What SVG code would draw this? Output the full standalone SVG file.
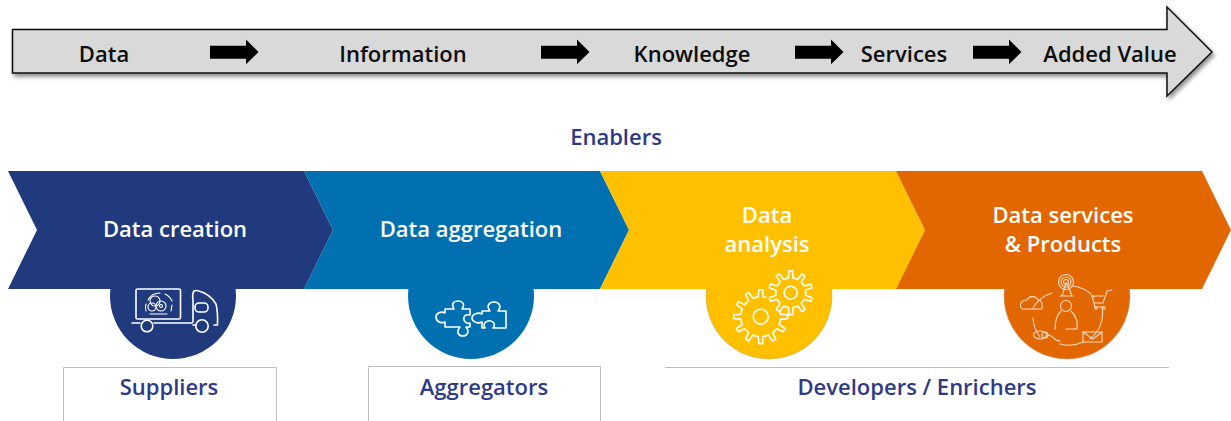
<svg xmlns="http://www.w3.org/2000/svg" width="1231" height="421" viewBox="0 0 1231 421">
<style>
text{font-family:"Open Sans","Liberation Sans",sans-serif;font-weight:600;text-anchor:middle}
.k{font-size:22px;fill:#0d0d0d}
.w{font-size:22px;fill:#fff}
.n{font-size:22px;fill:#2f3a86}
.i{fill:none;stroke:#fff;stroke-width:1.6;stroke-linecap:round;stroke-linejoin:round}
.o{fill:none;stroke:#f9dcc4;stroke-width:1.1;stroke-linecap:round;stroke-linejoin:round}
.b{fill:none;stroke:#bfbfbf;stroke-width:1}
</style>
<defs>
<filter id="sh" x="-2%" y="-20%" width="104%" height="150%"><feDropShadow dx="2" dy="3" stdDeviation="2" flood-color="#000" flood-opacity=".45"/></filter>
<path id="a" d="M0 45.7H36V39.5L48.500 52 36 64.200V58.700H0Z" fill="#000"/>
<path id="t1" d="M-5.180-19.300L-2.440-19.850-1.880-26.900H1.880L2.440-19.850 5.180-19.300" class="i"/>
<path id="t2" d="M-4.640-14.270L-2.200-14.840-1.920-21.900H1.920L2.200-14.840 4.640-14.270" class="i"/>
</defs>

<g id="value-arrow">
<path d="M12.500 29.500H1167V7L1212 52 1167 96V73H12.500Z" fill="#d9d9d9" stroke="#111" stroke-width="1.500" filter="url(#sh)"/>
<text class="k" x="104" y="62">Data</text>
<text class="k" x="403" y="62">Information</text>
<text class="k" x="692" y="62">Knowledge</text>
<text class="k" x="904" y="62">Services</text>
<text class="k" x="1110" y="62">Added Value</text>
</g>
<g id="connectors">
<use href="#a" x="210"/><use href="#a" x="541"/><use href="#a" x="795"/><use href="#a" x="973"/>
</g>
<g id="enablers"><text class="n" x="616" y="145">Enablers</text></g>

<g id="circle-creation"><circle cx="173" cy="296" r="63" fill="#213a7d"/></g>
<g id="circle-aggregation"><circle cx="471" cy="296" r="63" fill="#0070b0"/></g>
<g id="circle-analysis"><circle cx="769" cy="296" r="63" fill="#ffc000" stroke="#c9a84a" stroke-width=".6"/></g>
<g id="circle-services"><circle cx="1067" cy="296" r="63" fill="#e26700" stroke="#c9905e" stroke-width=".6"/></g>

<g id="data-creation">
<path d="M8 171H304L333 230 304 289H8L37 230Z" fill="#213a7d"/>
<text class="w" x="175" y="237">Data creation</text>
</g>
<g id="data-aggregation">
<path d="M304 171H600L629 230 600 289H304L333 230Z" fill="#0070b0"/>
<text class="w" x="471" y="237">Data aggregation</text>
</g>
<g id="data-analysis">
<path d="M600 171H896L925 230 896 289H600L629 230Z" fill="#ffc000"/>
<text class="w" x="767" y="223">Data</text>
<text class="w" x="767" y="252">analysis</text>
</g>
<g id="data-services">
<path d="M896 171H1202L1231 230 1202 289H896L925 230Z" fill="#e26700"/>
<text class="w" x="1063" y="223">Data services</text>
<text class="w" x="1063" y="252">&amp; Products</text>
</g>

<g id="icon-truck">
<rect x="136" y="289" width="44.500" height="30" rx="1.500" class="i"/>
<path class="i" d="M132 323H140M154 323H192M193 322V300Q192 294 194 291 196 290 199 291 210 294 216 304 218 312 217.500 325H214M193 325H196"/>
<circle cx="147" cy="326" r="5.800" class="i"/>
<circle cx="202" cy="326" r="6.200" class="i"/>
<rect x="195" y="303" width="13" height="9" rx="4" class="i"/>
<g style="stroke-width:1.100">
<path class="i" style="stroke-width:1.100" d="M148 300A13.500 13.500 0 0 1 160 293M165 294A13.500 13.500 0 0 1 172 301M172 305L171 311M167 314H150M146 311A13.500 13.500 0 0 1 146 304"/>
<circle cx="155" cy="301" r="5" class="i" style="stroke-width:1.100"/>
<circle cx="161" cy="306" r="5" class="i" style="stroke-width:1.100"/>
<circle cx="152" cy="307" r="4" class="i" style="stroke-width:1.100"/>
<circle cx="161" cy="306" r="1.500" class="i" style="stroke-width:1.100"/>
</g>
</g>

<g id="icon-puzzle">
<path class="i" d="M445 309H454C450 302 456 301 458 301 461 301 466 303 462 309H470V315C465 314 463 317 464 320 465 323 468 324 470 323L470 327H466C470 332 467 336 463 336 458 336 456 332 460 327H445V322C440 324 436 321 436 317 436 313 441 311 445 313Z"/>
<path class="i" d="M482 311H490C486 306 489 302 494 302 499 302 502 306 498 311H506V328H493C497 323 491 320 488 321 484 322 483 325 485 328H482V322C478 324 472 322 472 318 472 314 478 312 482 314Z"/>
</g>

<g id="icon-gears">
<g transform="translate(760.700 316.700)">
<circle r="7.500" class="i"/>
<use href="#t1" transform="rotate(0)"/><use href="#t1" transform="rotate(-30)"/><use href="#t1" transform="rotate(-60)"/><use href="#t1" transform="rotate(-90)"/><use href="#t1" transform="rotate(-120)"/><use href="#t1" transform="rotate(-150)"/><use href="#t1" transform="rotate(180)"/><use href="#t1" transform="rotate(150)"/><use href="#t1" transform="rotate(120)"/><use href="#t1" transform="rotate(90)"/>
</g>
<g transform="translate(790.700 292.700)">
<circle r="6.500" class="i"/>
<use href="#t2" transform="rotate(0)"/><use href="#t2" transform="rotate(36)"/><use href="#t2" transform="rotate(72)"/><use href="#t2" transform="rotate(108)"/><use href="#t2" transform="rotate(144)"/><use href="#t2" transform="rotate(180)"/><use href="#t2" transform="rotate(216)"/><use href="#t2" transform="rotate(252)"/><use href="#t2" transform="rotate(288)"/><use href="#t2" transform="rotate(324)"/>
</g>
</g>

<g id="icon-services">
<path class="o" d="M1052 293A33 33 0 0 0 1033 308M1072 286A33 33 0 0 1 1094 297M1102 307A33 33 0 0 1 1090 339M1083 342A33 33 0 0 1 1060 344M1040 337A33 33 0 0 1 1033 318"/>
<circle cx="1066" cy="282" r="7.500" class="o"/><circle cx="1066" cy="282" r="5" class="o"/><circle cx="1066" cy="282" r="2.500" class="o"/>
<path class="o" d="M1066 283L1062 296H1072L1067 283M1060 296H1073"/>
<path class="o" d="M1022 309C1018 304 1022 300 1027 300 1029 296 1035 295 1038 300 1042 300 1043 304 1042 309Z"/>
<path class="o" d="M1112 290L1107 291 1103 303H1094L1092 296H1103M1094 303L1095 307H1104"/>
<circle cx="1096" cy="308" r="1.200" class="o"/><circle cx="1104" cy="308" r="1.200" class="o"/>
<circle cx="1066" cy="306" r="5.500" class="o"/>
<path class="o" d="M1061 311C1056 316 1055 323 1055 329M1071 311C1076 316 1078 323 1077 329H1066"/>
<rect x="1083" y="332" width="19" height="10" class="o"/>
<path class="o" d="M1083 332L1093 339 1102 332"/>
<ellipse cx="1040" cy="335" rx="6.500" ry="4" class="o"/>
<circle cx="1045" cy="335" r="3" class="o"/>
<path class="o" d="M1048 335C1054 335 1053 341 1060 341"/>
</g>

<g id="suppliers">
<path class="b" d="M63.500 421V367.500H276.500V421"/>
<text class="n" x="169" y="395">Suppliers</text>
</g>
<g id="aggregators">
<path class="b" d="M368.500 421V366.500H600.500V421"/>
<text class="n" x="484" y="395">Aggregators</text>
</g>
<g id="developers">
<path class="b" d="M665 367.500H1169"/>
<text class="n" x="917" y="395">Developers / Enrichers</text>
</g>
</svg>
